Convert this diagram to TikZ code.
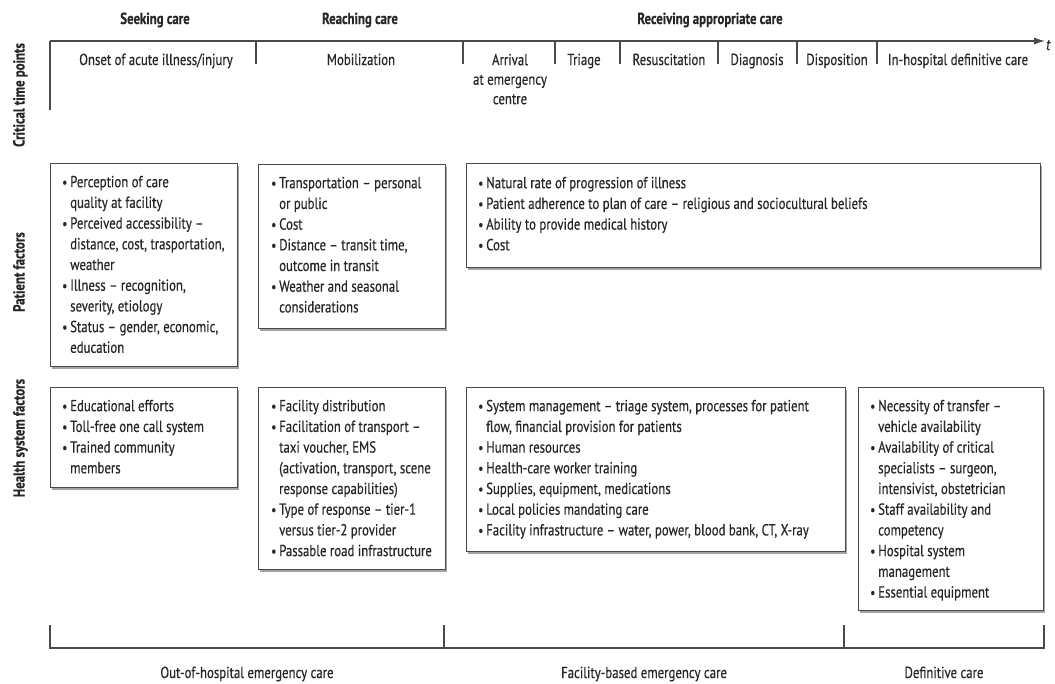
\documentclass[tikz,border=0pt]{standalone}
\usepackage{fontspec}
\setmainfont{PT Sans}[FakeStretch=0.8,FakeBold=0.35]
\usepackage{graphicx}
\usetikzlibrary{arrows.meta,shadows}
\definecolor{ink}{HTML}{262626}
\definecolor{rulec}{HTML}{4A4A4A}
\newcommand\bul{\makebox[8pt][l]{\scalebox{0.9}{•}}}
\newcommand\ind{\hspace*{8pt}}
\newcommand\fl{\rule{0pt}{12pt}}
\begin{document}
\begin{tikzpicture}[x=1pt,y=-1pt,
  every node/.style={text=ink, font=\fontsize{16}{20.7}\selectfont},
  hdr/.style={font=\fontsize{16}{18}\selectfont\bfseries, anchor=base, inner sep=0},
  lbl/.style={anchor=base, inner sep=0, align=center},
  lbltop/.style={anchor=north, inner sep=0, align=center, font=\fontsize{16}{19.5}\selectfont},
  sidelbl/.style={font=\fontsize{16}{18}\selectfont\bfseries, rotate=90, anchor=mid, inner sep=0},
  boxst/.style={draw=rulec, line width=0.9pt, fill=white, anchor=north west, inner sep=0,
    drop shadow={shadow xshift=2pt, shadow yshift=-2.5pt, fill=black!60, opacity=0.6}},
  txt/.style={anchor=north west, inner sep=0, align=left},
  axis/.style={draw=rulec, line width=1.1pt},
]
\fill[white] (0,0) rectangle (1055,683);
\useasboundingbox (0,0) rectangle (1055,683);

% headers
\node[hdr] (h1) at (155,24) {Seeking care};
\node[hdr] (h2) at (360,24) {Reaching care};
\node[hdr] (h3) at (710,24) {Receiving appropriate care};

% side labels
\node[sidelbl] (s1) at (22,95) {Critical time points};
\node[sidelbl] (s2) at (22,272) {Patient factors};
\node[sidelbl] (s3) at (22,438) {Health system factors};

% timeline
\coordinate (tl0) at (50,41);
\coordinate (tlend) at (1045,41);
\coordinate (tlbot) at (50,110);
\draw[axis, -{Latex[length=11pt,width=7pt]}] (tl0) -- (tlend);
\draw[axis] (tl0) -- (tlbot);
\node[anchor=base west, inner sep=0, font=\fontsize{16}{18}\selectfont\itshape] (tt) at (1046,50) {t};
\foreach \x/\n in {256/a,463/b,555/c,620/d,718/e,797/f,877/g}{
  \coordinate (tk\n) at (\x,41);
  \coordinate (tb\n) at (\x,64);
  \draw[axis] (tk\n) -- (tb\n);
}

% time point labels
\node[lbl] (c1) at (156,65) {Onset of acute illness/injury};
\node[lbl] (c2) at (361,65) {Mobilization};
\node[lbltop] (c3) at (510,53) {\fl Arrival\\at emergency\\centre};
\node[lbl] (c4) at (584,65) {Triage};
\node[lbl] (c5) at (669,65) {Resuscitation};
\node[lbl] (c6) at (757,65) {Diagnosis};
\node[lbl] (c7) at (837,65) {Disposition};
\node[lbl] (c8) at (958,65) {In-hospital definitive care};

% patient factor boxes
\node[boxst, minimum width=187pt, minimum height=203pt] (p1) at (50,163) {};
\node[txt] (p1t) at (62,175) {\fl\bul Perception of care\\\ind quality at facility\\\bul Perceived accessibility --\\\ind distance, cost, trasportation,\\\ind weather\\\bul Illness -- recognition,\\\ind severity, etiology\\\bul Status -- gender, economic,\\\ind education};

\node[boxst, minimum width=187pt, minimum height=164pt] (p2) at (258,164) {};
\node[txt] (p2t) at (271,176) {\fl\bul Transportation -- personal\\\ind or public\\\bul Cost\\\bul Distance -- transit time,\\\ind outcome in transit\\\bul Weather and seasonal\\\ind considerations};

\node[boxst, minimum width=574pt, minimum height=104pt] (p3) at (466,163) {};
\node[txt] (p3t) at (478,176) {\fl\bul Natural rate of progression of illness\\\bul Patient adherence to plan of care -- religious and sociocultural beliefs\\\bul Ability to provide medical history\\\bul Cost};

% health system boxes
\node[boxst, minimum width=187pt, minimum height=100pt] (q1) at (50,387) {};
\node[txt] (q1t) at (62,399) {\fl\bul Educational efforts\\\bul Toll-free one call system\\\bul Trained community\\\ind members};

\node[boxst, minimum width=187pt, minimum height=182pt] (q2) at (258,387) {};
\node[txt] (q2t) at (271,399) {\fl\bul Facility distribution\\\bul Facilitation of transport --\\\ind taxi voucher, EMS\\\ind (activation, transport, scene\\\ind response capabilities)\\\bul Type of response -- tier-1\\\ind versus tier-2 provider\\\bul Passable road infrastructure};

\node[boxst, minimum width=379pt, minimum height=164pt] (q3) at (466,387) {};
\node[txt] (q3t) at (478,399) {\fl\bul System management -- triage system, processes for patient\\\ind flow, financial provision for patients\\\bul Human resources\\\bul Health-care worker training\\\bul Supplies, equipment, medications\\\bul Local policies mandating care\\\bul Facility infrastructure -- water, power, blood bank, CT, X-ray};

\node[boxst, minimum width=185pt, minimum height=223pt] (q4) at (858,387) {};
\node[txt] (q4t) at (870,399) {\fl\bul Necessity of transfer --\\\ind vehicle availability\\\bul Availability of critical\\\ind specialists -- surgeon,\\\ind intensivist, obstetrician\\\bul Staff availability and\\\ind competency\\\bul Hospital system\\\ind management\\\bul Essential equipment};

% bottom bracket
\coordinate (bl) at (50,648);
\coordinate (br) at (1044,648);
\coordinate (blt) at (50,625);
\coordinate (brt) at (1044,625);
\coordinate (bm1) at (444,648);
\coordinate (bm1t) at (444,625);
\coordinate (bm2) at (844,648);
\coordinate (bm2t) at (844,625);
\draw[axis] (blt) -- (bl) -- (br) -- (brt);
\draw[axis] (bm1t) -- (bm1);
\draw[axis] (bm2t) -- (bm2);

\node[lbl] (e1) at (247,678) {Out-of-hospital emergency care};
\node[lbl] (e2) at (644,678) {Facility-based emergency care};
\node[lbl] (e3) at (944,678) {Definitive care};
\end{tikzpicture}
\end{document}
